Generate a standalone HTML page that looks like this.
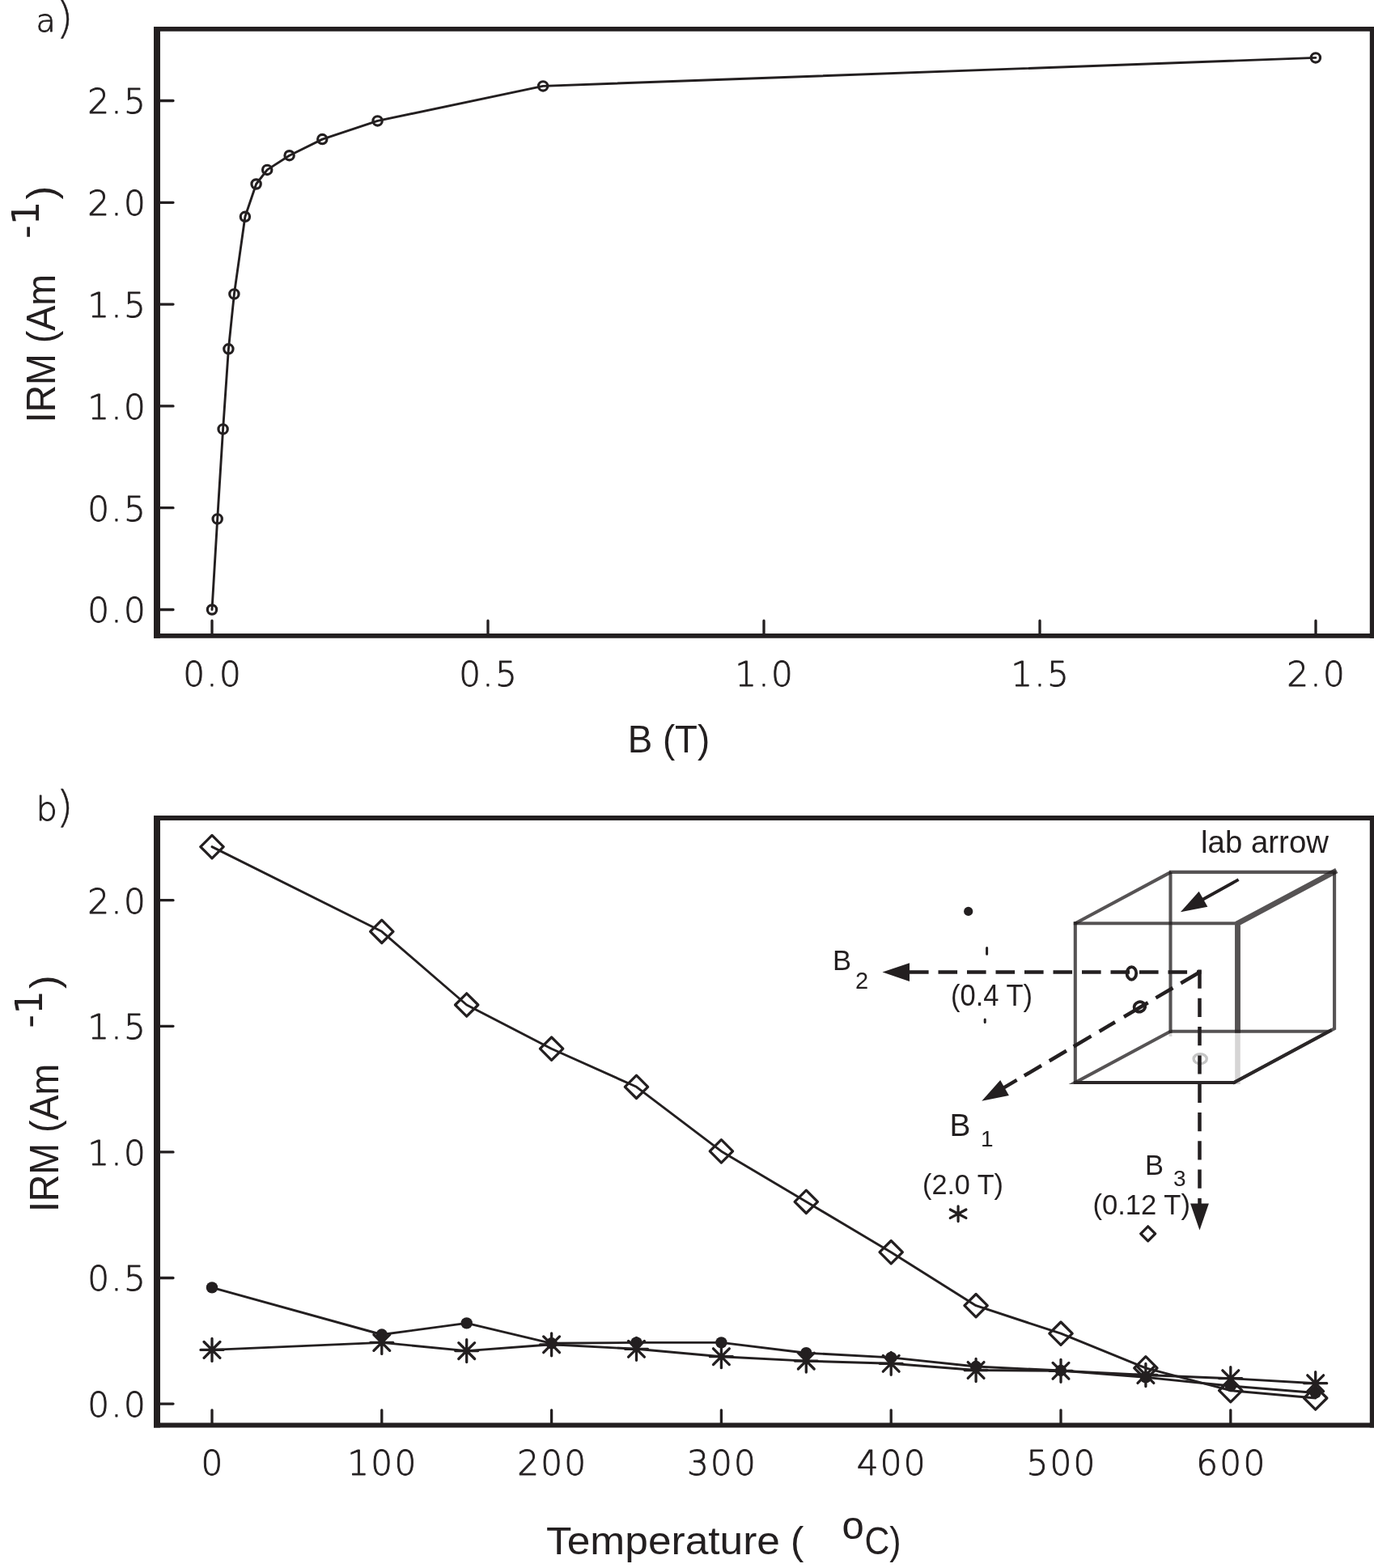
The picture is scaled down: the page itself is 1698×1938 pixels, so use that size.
<!DOCTYPE html>
<html lang="en"><head><meta charset="utf-8"><title>IRM acquisition and thermal demagnetization</title>
<style>html,body{margin:0;padding:0;background:#fff}svg{display:block}.tk{font-family:"DejaVu Sans Light","DejaVu Sans","Liberation Sans",sans-serif;font-weight:200;font-size:42.2px;letter-spacing:2.2px;fill:#231f20;stroke:#231f20;stroke-width:0.9px;stroke-linejoin:round}.sup{font-family:"DejaVu Sans","Liberation Sans",sans-serif;font-size:46.5px;fill:#231f20}.lb{font-family:"Liberation Sans",sans-serif;fill:#231f20}</style></head><body>
<svg width="1698" height="1938" viewBox="0 0 1698 1938">
<rect width="1698" height="1938" fill="#fff"/>
<g stroke="#231f20" fill="none">
<path d="M190,35.9 H1701 M190,785.9 H1701" stroke-width="5.8"/>
<path d="M194,33.0 V788.8 M1696.8,33.0 V788.8" stroke-width="8"/>
</g>
<path d="M262.0,767.2V784.0M603.0,767.2V784.0M944.0,767.2V784.0M1285.0,767.2V784.0M1626.0,767.2V784.0M197,753.5H214M197,627.7H214M197,501.9H214M197,376.1H214M197,250.3H214M197,124.5H214" stroke="#231f20" stroke-width="3.3" stroke-linecap="round" fill="none"/>
<polyline points="262.0,753.5 268.7,641.4 275.6,530.4 282.4,431.3 289.4,363.4 302.9,267.8 316.6,227.5 330.2,209.9 357.6,192.2 398.3,172.1 466.6,149.4 671.1,106.4 1625.9,71.4" fill="none" stroke="#231f20" stroke-width="2.9" stroke-linejoin="round" stroke-linecap="round"/>
<g fill="none" stroke="#231f20" stroke-width="3.2">
<circle cx="262.0" cy="753.5" r="5.65"/>
<circle cx="268.7" cy="641.4" r="5.65"/>
<circle cx="275.6" cy="530.4" r="5.65"/>
<circle cx="282.4" cy="431.3" r="5.65"/>
<circle cx="289.4" cy="363.4" r="5.65"/>
<circle cx="302.9" cy="267.8" r="5.65"/>
<circle cx="316.6" cy="227.5" r="5.65"/>
<circle cx="330.2" cy="209.9" r="5.65"/>
<circle cx="357.6" cy="192.2" r="5.65"/>
<circle cx="398.3" cy="172.1" r="5.65"/>
<circle cx="466.6" cy="149.4" r="5.65"/>
<circle cx="671.1" cy="106.4" r="5.65"/>
<circle cx="1625.9" cy="71.4" r="5.65"/>
</g>
<text class="tk" x="182" y="769.3" text-anchor="end">0.0</text>
<text class="tk" x="182" y="643.5" text-anchor="end">0.5</text>
<text class="tk" x="182" y="517.7" text-anchor="end">1.0</text>
<text class="tk" x="182" y="391.9" text-anchor="end">1.5</text>
<text class="tk" x="182" y="266.1" text-anchor="end">2.0</text>
<text class="tk" x="182" y="140.3" text-anchor="end">2.5</text>
<text class="tk" x="263.1" y="848" text-anchor="middle">0.0</text>
<text class="tk" x="604.1" y="848" text-anchor="middle">0.5</text>
<text class="tk" x="945.1" y="848" text-anchor="middle">1.0</text>
<text class="tk" x="1286.1" y="848" text-anchor="middle">1.5</text>
<text class="tk" x="1627.1" y="848" text-anchor="middle">2.0</text>
<text class="tk" x="44.5" y="38.8" style="font-size:39.5px;letter-spacing:0">a<tspan x="69.5" y="41.2" style="font-size:54px;stroke-width:0.5px">)</tspan></text>
<text class="lb" x="775.8" y="930" font-size="49" textLength="101.4" lengthAdjust="spacingAndGlyphs">B (T)</text>
<g transform="translate(68.3,522.4) rotate(-90)">
<text class="lb" font-size="50"><tspan x="0" y="0" textLength="183.3" lengthAdjust="spacingAndGlyphs">IRM (Am</tspan><tspan class="sup" x="212.7" y="-20.4"> -1</tspan><tspan x="276" y="0">)</tspan></text>
</g>
<g stroke="#231f20" fill="none">
<path d="M190,1011 H1701 M190,1761.5 H1701" stroke-width="5.8"/>
<path d="M194,1008.1 V1764.4 M1696.8,1008.1 V1764.4" stroke-width="8"/>
</g>
<path d="M262.0,1742.8V1759.6M471.8,1742.8V1759.6M681.6,1742.8V1759.6M891.4,1742.8V1759.6M1101.2,1742.8V1759.6M1311.0,1742.8V1759.6M1520.8,1742.8V1759.6M197,1735.1H214M197,1579.5H214M197,1423.9H214M197,1268.3H214M197,1112.7H214" stroke="#231f20" stroke-width="3.3" stroke-linecap="round" fill="none"/>
<polyline points="262.0,1046.6 471.8,1151.3 576.7,1242.0 681.6,1296.2 786.5,1343.3 891.4,1422.9 996.3,1485.3 1101.2,1547.7 1206.1,1613.7 1311.0,1648.2 1415.9,1690.8 1520.8,1718.7 1625.7,1728.0" fill="none" stroke="#231f20" stroke-width="2.9" stroke-linejoin="round" stroke-linecap="round"/>
<polyline points="262.0,1591.4 471.8,1649.5 576.7,1635.4 681.6,1660.3 786.5,1659.4 891.4,1659.4 996.3,1672.2 1101.2,1677.9 1206.1,1689.0 1311.0,1694.0 1415.9,1702.4 1520.8,1713.0 1625.7,1721.5" fill="none" stroke="#231f20" stroke-width="2.9" stroke-linejoin="round" stroke-linecap="round"/>
<polyline points="262.0,1668.4 471.8,1659.4 576.7,1669.6 681.6,1661.8 786.5,1667.3 891.4,1676.7 996.3,1682.1 1101.2,1685.3 1206.1,1693.5 1311.0,1694.3 1415.9,1699.5 1520.8,1703.7 1625.7,1709.7" fill="none" stroke="#231f20" stroke-width="2.9" stroke-linejoin="round" stroke-linecap="round"/>
<g fill="none" stroke="#231f20" stroke-width="3.2" stroke-linejoin="round">
<path d="M262.0,1032.4l14.2,14.2l-14.2,14.2l-14.2,-14.2z"/>
<path d="M471.8,1137.1l14.2,14.2l-14.2,14.2l-14.2,-14.2z"/>
<path d="M576.7,1227.8l14.2,14.2l-14.2,14.2l-14.2,-14.2z"/>
<path d="M681.6,1282.0l14.2,14.2l-14.2,14.2l-14.2,-14.2z"/>
<path d="M786.5,1329.1l14.2,14.2l-14.2,14.2l-14.2,-14.2z"/>
<path d="M891.4,1408.7l14.2,14.2l-14.2,14.2l-14.2,-14.2z"/>
<path d="M996.3,1471.1l14.2,14.2l-14.2,14.2l-14.2,-14.2z"/>
<path d="M1101.2,1533.5l14.2,14.2l-14.2,14.2l-14.2,-14.2z"/>
<path d="M1206.1,1599.5l14.2,14.2l-14.2,14.2l-14.2,-14.2z"/>
<path d="M1311.0,1634.0l14.2,14.2l-14.2,14.2l-14.2,-14.2z"/>
<path d="M1415.9,1676.6l14.2,14.2l-14.2,14.2l-14.2,-14.2z"/>
<path d="M1520.8,1704.5l14.2,14.2l-14.2,14.2l-14.2,-14.2z"/>
<path d="M1625.7,1713.8l14.2,14.2l-14.2,14.2l-14.2,-14.2z"/>
</g>
<g fill="#231f20">
<circle cx="262.0" cy="1591.4" r="7.2"/>
<circle cx="471.8" cy="1649.5" r="7.2"/>
<circle cx="576.7" cy="1635.4" r="7.2"/>
<circle cx="681.6" cy="1660.3" r="7.2"/>
<circle cx="786.5" cy="1659.4" r="7.2"/>
<circle cx="891.4" cy="1659.4" r="7.2"/>
<circle cx="996.3" cy="1672.2" r="7.2"/>
<circle cx="1101.2" cy="1677.9" r="7.2"/>
<circle cx="1206.1" cy="1689.0" r="7.2"/>
<circle cx="1311.0" cy="1694.0" r="7.2"/>
<circle cx="1415.9" cy="1702.4" r="7.2"/>
<circle cx="1520.8" cy="1713.0" r="7.2"/>
<circle cx="1625.7" cy="1721.5" r="7.2"/>
</g>
<g fill="none" stroke="#231f20" stroke-width="3.3" stroke-linecap="round">
<path d="M262.0,1654.4v28M248.0,1668.4h28M252.1,1658.5l19.8,19.8M252.1,1678.3l19.8,-19.8"/>
<path d="M471.8,1645.4v28M457.8,1659.4h28M461.9,1649.5l19.8,19.8M461.9,1669.3l19.8,-19.8"/>
<path d="M576.7,1655.6v28M562.7,1669.6h28M566.8,1659.7l19.8,19.8M566.8,1679.5l19.8,-19.8"/>
<path d="M681.6,1647.8v28M667.6,1661.8h28M671.7,1651.9l19.8,19.8M671.7,1671.7l19.8,-19.8"/>
<path d="M786.5,1653.3v28M772.5,1667.3h28M776.6,1657.4l19.8,19.8M776.6,1677.2l19.8,-19.8"/>
<path d="M891.4,1662.7v28M877.4,1676.7h28M881.5,1666.8l19.8,19.8M881.5,1686.6l19.8,-19.8"/>
<path d="M996.3,1668.1v28M982.3,1682.1h28M986.4,1672.2l19.8,19.8M986.4,1692.0l19.8,-19.8"/>
<path d="M1101.2,1671.3v28M1087.2,1685.3h28M1091.3,1675.4l19.8,19.8M1091.3,1695.2l19.8,-19.8"/>
<path d="M1206.1,1679.5v28M1192.1,1693.5h28M1196.2,1683.6l19.8,19.8M1196.2,1703.4l19.8,-19.8"/>
<path d="M1311.0,1680.3v28M1297.0,1694.3h28M1301.1,1684.4l19.8,19.8M1301.1,1704.2l19.8,-19.8"/>
<path d="M1415.9,1685.5v28M1401.9,1699.5h28M1406.0,1689.6l19.8,19.8M1406.0,1709.4l19.8,-19.8"/>
<path d="M1520.8,1689.7v28M1506.8,1703.7h28M1510.9,1693.8l19.8,19.8M1510.9,1713.6l19.8,-19.8"/>
<path d="M1625.7,1695.7v28M1611.7,1709.7h28M1615.8,1699.8l19.8,19.8M1615.8,1719.6l19.8,-19.8"/>
</g>
<text class="tk" x="182" y="1750.9" text-anchor="end">0.0</text>
<text class="tk" x="182" y="1595.3" text-anchor="end">0.5</text>
<text class="tk" x="182" y="1439.7" text-anchor="end">1.0</text>
<text class="tk" x="182" y="1284.1" text-anchor="end">1.5</text>
<text class="tk" x="182" y="1128.5" text-anchor="end">2.0</text>
<text class="tk" x="263.1" y="1823" text-anchor="middle">0</text>
<text class="tk" x="472.9" y="1823" text-anchor="middle">100</text>
<text class="tk" x="682.7" y="1823" text-anchor="middle">200</text>
<text class="tk" x="892.5" y="1823" text-anchor="middle">300</text>
<text class="tk" x="1102.3" y="1823" text-anchor="middle">400</text>
<text class="tk" x="1312.1" y="1823" text-anchor="middle">500</text>
<text class="tk" x="1521.9" y="1823" text-anchor="middle">600</text>
<text class="tk" x="44.5" y="1013.9" style="font-size:41.5px;letter-spacing:0">b<tspan x="69.5" y="1016.4" style="font-size:54px;stroke-width:0.5px">)</tspan></text>
<g transform="translate(72.1,1498.1) rotate(-90)">
<text class="lb" font-size="50"><tspan x="0" y="0" textLength="183.3" lengthAdjust="spacingAndGlyphs">IRM (Am</tspan><tspan class="sup" x="212.7" y="-20.4"> -1</tspan><tspan x="276" y="0">)</tspan></text>
</g>
<text class="lb" font-size="49"><tspan x="675" y="1920.7" textLength="289" lengthAdjust="spacingAndGlyphs">Temperature</tspan><tspan x="963.4" y="1920.7"> (</tspan><tspan x="1040.5" y="1901.6">o</tspan><tspan x="1068.5" y="1920.7" textLength="45" lengthAdjust="spacingAndGlyphs">C)</tspan></text>
<g id="inset">
<path d="M1328.8,1139.15V1338" stroke="#231f20" stroke-opacity="0.77" fill="none" stroke-width="4.1" />
<path d="M1326.75,1141.2H1526.05" stroke="#231f20" stroke-opacity="0.77" fill="none" stroke-width="4.1" />
<path d="M1328.8,1141.2L1447,1077.9" stroke="#231f20" stroke-opacity="0.77" fill="none" stroke-width="4.1" />
<path d="M1445,1077.9H1651" stroke="#231f20" stroke-opacity="0.77" fill="none" stroke-width="4.1" />
<path d="M1446.5,1077.9V1276.8" stroke="#231f20" stroke-opacity="0.77" fill="none" stroke-width="4.1" />
<path d="M1446.5,1274.8H1643" stroke="#231f20" stroke-opacity="0.77" fill="none" stroke-width="4.1" />
<path d="M1649.1,1077.9V1271.2L1525,1338" stroke="#231f20" stroke-opacity="0.77" fill="none" stroke-width="4.1" stroke-linejoin="miter"/>
<path d="M1420,1338H1328.8L1446.5,1274.8" stroke="#231f20" stroke-opacity="0.77" fill="none" stroke-width="4.1" stroke-linejoin="miter" stroke-miterlimit="10"/>
<path d="M1529.5,1276.8V1141.2L1651.8,1076" stroke="#231f20" stroke-opacity="0.77" fill="none" stroke-width="6.9" stroke-linejoin="miter"/>
<path d="M1529.5,1276.8V1340" stroke="#231f20" stroke-opacity="0.19" stroke-width="6.6" fill="none"/>
<path d="M1446.5,1276.8V1281" stroke="#231f20" stroke-opacity="0.19" stroke-width="3.9" fill="none"/>
<path d="M1326.9,1338H1526.5" stroke="#2a2627" stroke-width="4" fill="none"/>
<path d="M1523.6,1338.75L1645.6,1273.05" stroke="#2a2627" stroke-width="3.9" fill="none"/>
<ellipse cx="1483.2" cy="1308.7" rx="8.1" ry="6.1" fill="none" stroke="#c4c4c4" stroke-width="3.4"/>
<g fill="none" stroke="#231f20" stroke-width="4.5">
<path d="M1124,1201.5H1484.7" stroke-dasharray="23.6 11.9"/>
<path d="M1482.5,1198.5V1490" stroke-dasharray="23.2 12.1"/>
<path d="M1481.4,1202.2L1459.3,1215.2M1449.5,1221.0L1428.4,1233.4M1418.7,1239.2L1389.0,1256.7M1378.0,1263.2L1358.6,1274.7M1348.5,1280.6L1326.8,1293.5M1317.9,1298.7L1296.8,1311.2M1287.0,1317.0L1265.8,1329.5M1256.6,1334.9L1236.8,1346.6"/>
</g>
<g fill="#231f20">
<path d="M1090.5,1201.5L1124,1190.2V1212.9Z"/>
<path d="M1482.5,1520.5L1471.1,1487.6H1493.9Z"/>
<path d="M1213.3,1360.7L1236.2,1335.1L1246.9,1354.1Z"/>
<path d="M1458.9,1127.2L1481.7,1101.8L1492.4,1120.8Z"/>
<circle cx="1196.7" cy="1126.4" r="5.6"/>
</g>
<path d="M1530.6,1087.2L1485,1112.5" stroke="#231f20" stroke-width="3.8" stroke-linecap="butt" fill="none"/>
<ellipse cx="1398.4" cy="1202.9" rx="5.8" ry="7.85" fill="none" stroke="#231f20" stroke-width="3.8"/>
<ellipse cx="1408.4" cy="1244.4" rx="6.9" ry="6.1" fill="none" stroke="#231f20" stroke-width="3.8" transform="rotate(-20 1408.4 1244.4)"/>
<path d="M1219.6,1171.6V1179.2M1217.2,1260V1263.4" stroke="#231f20" stroke-width="3" stroke-linecap="round" fill="none"/>
<path d="M1184.1,1490.8v18.8M1174.3,1495.0l19.6,10.4M1174.3,1505.4l19.6,-10.4" stroke="#231f20" stroke-width="3.2" stroke-linecap="round" fill="none"/>
<path d="M1418.7,1515.8l9,9l-9,9l-9,-9z" stroke="#231f20" stroke-width="3.2" stroke-linejoin="round" fill="none"/>
<text class="lb" x="1484" y="1054.4" font-size="38" textLength="158" lengthAdjust="spacingAndGlyphs">lab arrow</text>
<text class="lb" x="1029" y="1199" font-size="34.5">B</text>
<text class="lb" x="1057" y="1222" font-size="29">2</text>
<text class="lb" x="1175" y="1242.5" font-size="36" textLength="101" lengthAdjust="spacingAndGlyphs">(0.4 T)</text>
<text class="lb" x="1173.5" y="1403.7" font-size="38.8">B</text>
<text class="lb" x="1212" y="1416.6" font-size="28">1</text>
<text class="lb" x="1140" y="1476.2" font-size="35" textLength="100" lengthAdjust="spacingAndGlyphs">(2.0 T)</text>
<text class="lb" x="1415" y="1451.9" font-size="34.5">B</text>
<text class="lb" x="1450" y="1466" font-size="28">3</text>
<text class="lb" x="1350.5" y="1501.4" font-size="34.5" textLength="120.5" lengthAdjust="spacingAndGlyphs">(0.12 T)</text>
</g>
</svg></body></html>
